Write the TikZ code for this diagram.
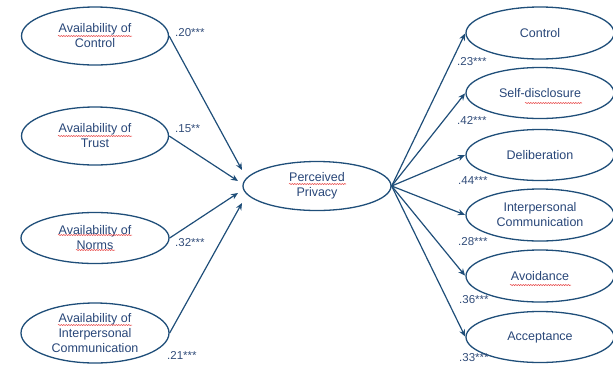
\documentclass[tikz,border=0pt]{standalone}
\usepackage{fontspec}
\setmainfont{Liberation Sans}
\usetikzlibrary{shapes.geometric,arrows.meta,decorations.pathmorphing}
\definecolor{lineblue}{RGB}{31,78,121}
\definecolor{textblue}{RGB}{40,70,120}
\definecolor{squig}{RGB}{230,60,60}
\begin{document}
\begin{tikzpicture}[x=1pt,y=-1pt,
  latent/.style={ellipse,draw=lineblue,line width=1.3pt,inner sep=0pt,
    text=textblue,align=center,font=\fontsize{12.5}{15}\selectfont},
  coef/.style={text=textblue!90!gray,font=\fontsize{11.5}{13}\selectfont,inner sep=0pt,anchor=west},
  path/.style={draw=lineblue,line width=1.2pt,-{Stealth[length=7pt,width=6pt]}},
  wavy/.style={draw=squig,line width=0.5pt,decorate,decoration={snake,amplitude=0.6pt,segment length=2.5pt}}]
\useasboundingbox (0,0) rectangle (613,365);

% left predictors
\node[latent,minimum width=147pt,minimum height=58pt] (lc) at (95,36) {Availability of\\Control};
\node[latent,minimum width=147pt,minimum height=58pt] (lt) at (95,136) {Availability of\\Trust};
\node[latent,minimum width=148pt,minimum height=51pt] (ln) at (95,238) {Availability of\\Norms};
\node[latent,minimum width=148pt,minimum height=60pt] (li) at (95,333) {Availability of\\Interpersonal\\Communication};

% central
\node[latent,minimum width=148pt,minimum height=49pt] (pp) at (317,186) {Perceived\\Privacy};

% right outcomes
\node[latent,minimum width=148pt,minimum height=52pt] (r1) at (540,33) {Control};
\node[latent,minimum width=148pt,minimum height=51pt] (r2) at (540,93) {Self-disclosure};
\node[latent,minimum width=148pt,minimum height=51pt] (r3) at (540,155) {Deliberation};
\node[latent,minimum width=148pt,minimum height=52pt] (r4) at (540,215) {Interpersonal\\Communication};
\node[latent,minimum width=148pt,minimum height=52pt] (r5) at (540,276) {Avoidance};
\node[latent,minimum width=148pt,minimum height=51pt] (r6) at (540,337) {Acceptance};

% arrow ends near the central node
\coordinate (e1) at (242,170);
\coordinate (e2) at (238,181);
\coordinate (e3) at (238,193);
\coordinate (e4) at (242,203);

\draw[path] (lc.east) -- (e1);
\draw[path] (lt.east) -- (e2);
\draw[path] (ln.east) -- (e3);
\draw[path] (li.east) -- (e4);

\foreach \r in {r1,r2,r3,r4,r5,r6}
  \draw[path,shorten >=0.5pt] (pp.east) -- (\r.west);

% coefficients
\node[coef] (c1) at (175,33) {.20***};
\node[coef] (c2) at (175,129) {.15**};
\node[coef] (c3) at (175,243) {.32***};
\node[coef] (c4) at (167,355) {.21***};
\node[coef] (c5) at (457,62) {.23***};
\node[coef] (c6) at (457,120) {.42***};
\node[coef] (c7) at (458,181) {.44***};
\node[coef] (c8) at (458,242) {.28***};
\node[coef] (c9) at (459,300) {.36***};
\node[coef] (c10) at (459,358) {.33***};

% spell-check squiggles
\draw[wavy] (58,36) -- (132,36);
\draw[wavy] (58,136) -- (132,136);
\draw[wavy] (58,235) -- (132,235);
\draw[wavy] (76,250) -- (115,250);
\draw[wavy] (58,325) -- (132,325);
\draw[wavy] (289,184) -- (346,184);
\draw[wavy] (525,103) -- (582,103);
\draw[wavy] (510,285) -- (571,285);
\end{tikzpicture}
\end{document}
